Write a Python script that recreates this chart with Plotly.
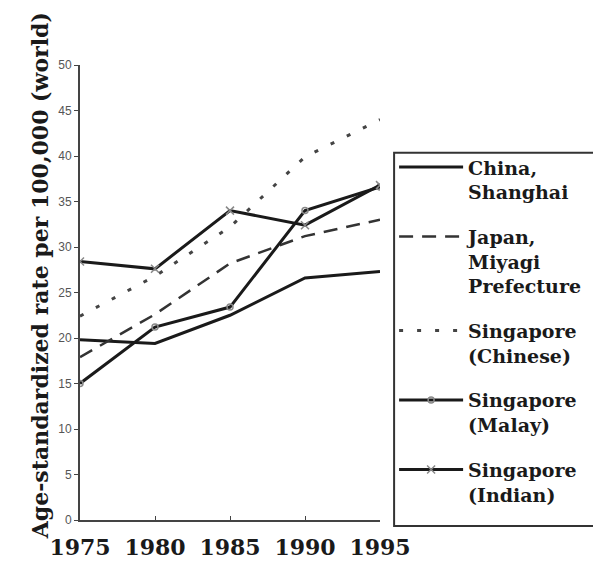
import plotly.graph_objects as go

years = [1975, 1980, 1985, 1990, 1995]

# age-standardized rate per 100,000 (world)
shanghai = [19.8, 19.4, 22.5, 26.6, 27.3]
miyagi = [17.9, 22.6, 28.2, 31.2, 33.0]
sg_chinese = [22.4, 26.8, 32.2, 39.9, 44.0]
sg_malay = [15.0, 21.2, 23.4, 34.0, 36.6]
sg_indian = [28.4, 27.6, 34.0, 32.4, 36.8]

names = ["China,<br>Shanghai", "Japan,<br>Miyagi<br>Prefecture",
         "Singapore<br>(Chinese)", "Singapore<br>(Malay)", "Singapore<br>(Indian)"]

y_ticks = [0, 5, 10, 15, 20, 25, 30, 35, 40, 45, 50]

fig = go.Figure()

fig.add_trace(go.Scatter(x=years, y=shanghai, name=names[0], mode="lines",
                         line=dict(color="#1a1a1a", width=3), legendgroup="a"))
fig.add_trace(go.Scatter(x=years, y=miyagi, name=names[1], mode="lines",
                         line=dict(color="#333333", width=2.5, dash="14px,9px"),
                         legendgroup="b"))
fig.add_trace(go.Scatter(x=years, y=sg_chinese, name=names[2], mode="lines",
                         line=dict(color="#444444", width=3, dash="4px,14px"),
                         legendgroup="c"))
fig.add_trace(go.Scatter(x=years, y=sg_malay, name=names[3], mode="lines+markers",
                         line=dict(color="#1a1a1a", width=3),
                         marker=dict(symbol="circle-open", size=6, color="#888888",
                                     line=dict(width=1.5)),
                         legendgroup="d"))
fig.add_trace(go.Scatter(x=years, y=sg_indian, name=names[4], mode="lines+markers",
                         line=dict(color="#1a1a1a", width=3),
                         marker=dict(symbol="x-thin-open", size=8, color="#888888",
                                     line=dict(width=1.5, color="#888888")),
                         legendgroup="e"))

# legend frame
fig.add_shape(type="rect", xref="paper", yref="paper",
              x0=1.047, x1=1.727, y0=-0.013, y1=0.807,
              line=dict(color="#333333", width=2), fillcolor="rgba(0,0,0,0)")

fig.add_annotation(text="Age-standardized rate per 100,000 (world)",
                   xref="paper", yref="paper", x=-0.183, y=0.536,
                   textangle=-90, showarrow=False,
                   font=dict(family="DejaVu Serif", size=22, color="#1a1a1a", weight="bold"))

fig.update_layout(
    width=601, height=567,
    margin=dict(l=72, r=229, t=57, b=55),
    paper_bgcolor="white", plot_bgcolor="white",
    showlegend=True,
    legend=dict(x=1.047, y=0.817, xanchor="left", yanchor="top",
                bgcolor="rgba(0,0,0,0)", borderwidth=0,
                itemwidth=64, valign="top",
                traceorder="grouped", tracegroupgap=17,
                font=dict(family="DejaVu Serif", size=19, color="#1a1a1a", weight="bold")),
    xaxis=dict(range=[1975, 1995], tickvals=years, showgrid=False, zeroline=False,
               showline=True, linecolor="#444444", linewidth=2,
               ticks="inside", ticklen=4, tickcolor="#444444", ticklabelstandoff=7,
               tickfont=dict(family="DejaVu Serif", size=22, color="#1a1a1a", weight="bold")),
    yaxis=dict(range=[0, 50], tickvals=y_ticks, showgrid=False, zeroline=False,
               showline=True, linecolor="#444444", linewidth=2,
               ticks="outside", ticklen=4, tickcolor="#444444",
               tickfont=dict(family="Liberation Sans", size=12, color="#555555")),
)

fig.write_html("out.html")
